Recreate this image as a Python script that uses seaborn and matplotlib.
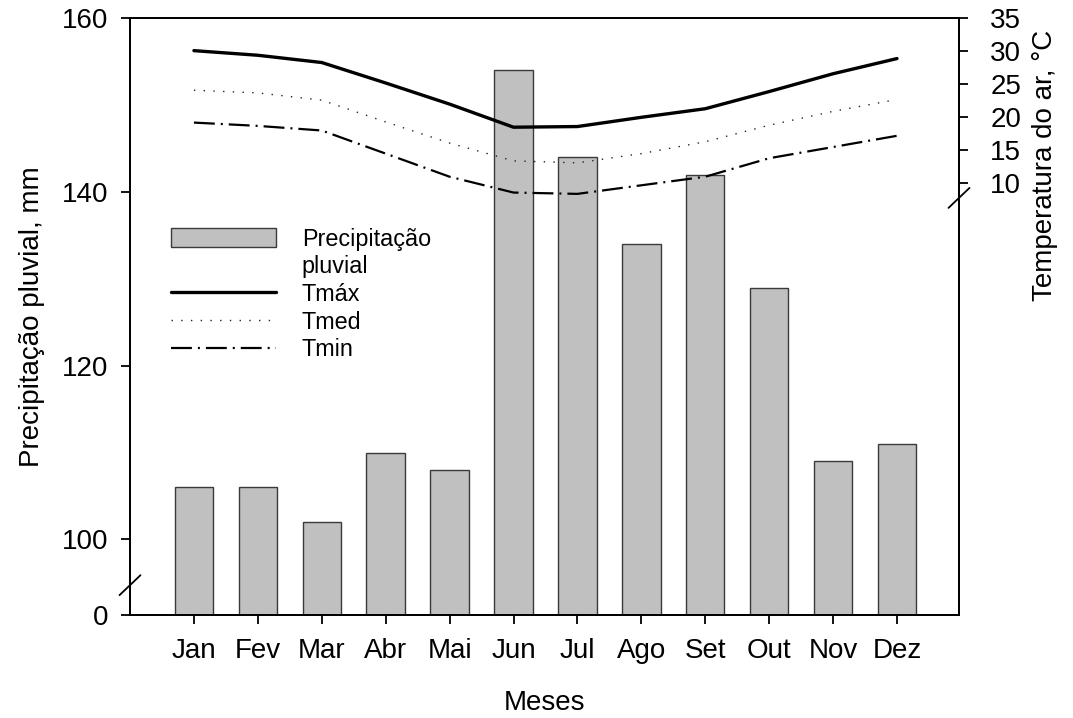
import numpy as np
import pandas as pd
import matplotlib
matplotlib.use("Agg")
import matplotlib.pyplot as plt
from matplotlib.patches import Patch
from matplotlib.lines import Line2D
import seaborn as sns

# Monthly climate data
months = ["Jan", "Fev", "Mar", "Abr", "Mai", "Jun", "Jul", "Ago", "Set", "Out", "Nov", "Dez"]
precip = [106, 106, 102, 110, 108, 154, 144, 134, 142, 129, 109, 111]
tmax = [30.1, 29.4, 28.3, 25.2, 22.0, 18.5, 18.6, 20.0, 21.3, 23.9, 26.6, 28.9]
tmed = [24.1, 23.7, 22.6, 19.3, 16.1, 13.4, 13.1, 14.5, 16.3, 18.8, 20.9, 22.7]
tmin = [19.2, 18.7, 18.0, 14.5, 11.0, 8.6, 8.4, 9.7, 11.0, 13.8, 15.5, 17.2]

precip_ticks = [0, 100, 120, 140, 160]
temp_ticks = [10, 15, 20, 25, 30, 35]

sns.set_theme(style="ticks")
plt.rcParams["font.family"] = ["Liberation Sans", "DejaVu Sans"]
plt.rcParams.update({
    "axes.linewidth": 1.3,
    "xtick.major.width": 1.3,
    "ytick.major.width": 1.3,
    "text.color": "black",
    "axes.labelcolor": "black",
    "xtick.color": "black",
    "ytick.color": "black",
    "axes.edgecolor": "black",
})

FS = 20

# Broken precipitation scale: 0-100 squeezed into a short band under 100-160
K = 0.0871


def fwd(v):
    v = np.asarray(v, dtype=float)
    return np.where(v >= 100, v, 100 - (100 - v) * K)


def inv(u):
    u = np.asarray(u, dtype=float)
    return np.where(u >= 100, u, 100 - (100 - u) / K)


fig = plt.figure(figsize=(10.73, 7.18), dpi=100)
ax = fig.add_axes([130 / 1073, 1 - 615 / 718, 829 / 1073, (615 - 18.3) / 718])

df = pd.DataFrame({"mes": months, "prec": precip, "pos": np.arange(len(months)),
                   "tmax": tmax, "tmed": tmed, "tmin": tmin})

sns.barplot(data=df, x="mes", y="prec", ax=ax, color="#c0c0c0", saturation=1,
            width=0.6, edgecolor="#3a3a3a", linewidth=1.0)
ax.set_yscale("function", functions=(fwd, inv))
ax.set_ylim(0, 160)
ax.set_yticks(precip_ticks)
ax.set_yticklabels([str(t) for t in precip_ticks])
ax.yaxis.set_minor_locator(matplotlib.ticker.NullLocator())
ax.set_xlim(-1, 11.97)
ax.set_xlabel("Meses", fontsize=FS, labelpad=19)
ax.set_ylabel("Precipitação pluvial, mm", fontsize=FS, labelpad=12)
ax.tick_params(axis="y", direction="out", length=6.5, labelsize=FS, pad=9)
ax.tick_params(axis="x", direction="out", length=6.5, labelsize=FS, pad=10)
for s in ax.spines.values():
    s.set_visible(True)

# Temperature axis
ax2 = ax.twinx()
sns.lineplot(data=df, x="pos", y="tmax", ax=ax2, color="black", linewidth=2.4, sort=False)
sns.lineplot(data=df, x="pos", y="tmed", ax=ax2, color="#222222", linewidth=1.0,
             linestyle=(0, (1, 6)), sort=False)
sns.lineplot(data=df, x="pos", y="tmin", ax=ax2, color="black", linewidth=1.6,
             linestyle=(0, (9.4, 2.7, 0.9, 2.7)), sort=False)
ax2.set_ylim(-55.4, 35)
ax2.set_yticks(temp_ticks)
ax2.set_yticklabels([str(t) for t in temp_ticks])
ax2.set_ylabel("Temperatura do ar, °C", fontsize=FS)
ax2.yaxis.set_label_coords(1.088, 0.754)
ax2.tick_params(axis="y", direction="out", length=6.5, labelsize=FS, pad=16)
ax2.set_xlim(-1, 11.97)
for s in ax2.spines.values():
    s.set_visible(True)

# Axis break marks
dx, dy = 10.5 / 829, 10 / 596.7
ax.plot([-dx, dx], [0.050 - dy, 0.050 + dy], transform=ax.transAxes,
        color="black", lw=1.3, clip_on=False)
ax2.plot([1 - dx, 1 + dx], [0.699 - dy, 0.699 + dy], transform=ax2.transAxes,
         color="black", lw=1.3, clip_on=False)

# Legend
handles = [
    Patch(facecolor="#c0c0c0", edgecolor="#3a3a3a", linewidth=1.0),
    Patch(facecolor="none", edgecolor="none"),
    Line2D([], [], color="black", lw=2.4),
    Line2D([], [], color="#222222", lw=1.0, linestyle=(0, (1, 6))),
    Line2D([], [], color="black", lw=1.6, linestyle=(0, (9.4, 2.7, 0.9, 2.7))),
]
labels = ["Precipitação", "pluvial", "Tmáx", "Tmed", "Tmin"]
ax2.legend(handles, labels, loc="upper left", bbox_to_anchor=(0.0495, 0.649),
           frameon=False, fontsize=16.8, borderpad=0, borderaxespad=0,
           handlelength=4.5, handleheight=0.85, handletextpad=1.1,
           labelspacing=0.2)

fig.savefig("out.png", dpi=100)
